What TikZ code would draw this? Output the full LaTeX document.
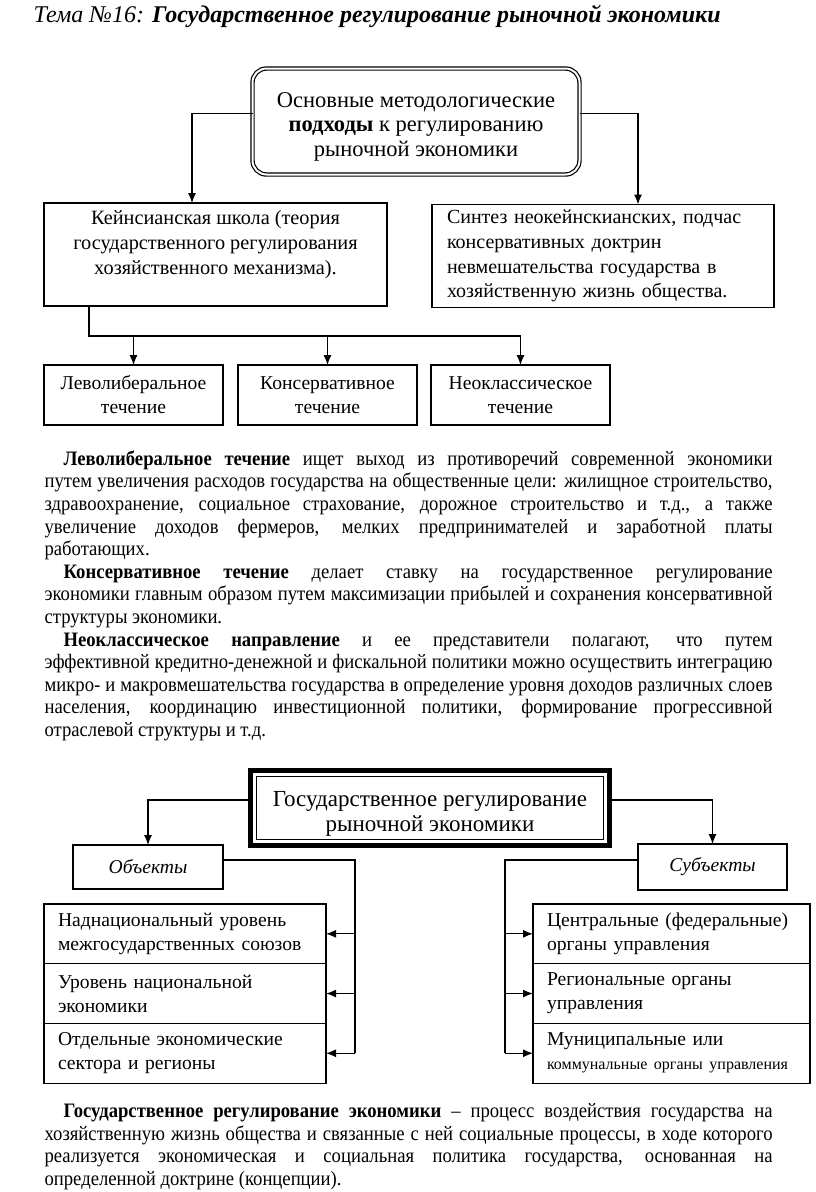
\documentclass[tikz,border=0pt]{standalone}
\usepackage{fontspec}
\setmainfont{Liberation Serif}
\newfontfamily\parafont[FakeStretch=0.91]{Liberation Serif}
\usetikzlibrary{arrows.meta}
\usetikzlibrary{positioning}

\begin{document}
\begin{tikzpicture}[
	x = 1pt, y = -1pt, % one unit = one pixel, y downwards
	> = {Latex[length=10pt, width=8pt]}, % arrow head style
	line width = 1.2pt, % line style
	font = \fontsize{19.6}{24}\selectfont
	]
	
	\tikzstyle{box}=[
	draw = black,
	line width = 1.2pt,
	inner sep = 0pt,
	outer sep = 0pt,
	align = center
	]
	\tikzstyle{row}=[
	box,
	align = left,
	inner xsep = 14pt,
	minimum height = 59.7pt
	]
	\tikzstyle{para}=[
	anchor = north west,
	inner sep = 0pt,
	text width = 728pt,
	align = justify,
	font = \parafont\fontsize{20.5}{22.6}\selectfont
	]
	
	\useasboundingbox (0,0) rectangle (816,1192);
	
	\node[anchor=base west, inner sep=0pt, font=\fontsize{24}{28}\selectfont\itshape] (title) at (33,22)
	{Тема №16: \textbf{Государственное регулирование рыночной экономики}};
	
	% first scheme
	\node[box, double, double distance=2pt, rounded corners=14pt, minimum width=327pt, minimum height=106pt,
	font=\fontsize{22.5}{24.5}\selectfont] (meth) at (416,121.5)
	{\rule{0pt}{25pt}Основные методологические\\\textbf{подходы} к регулированию\\рыночной экономики};
	\node[box, minimum width=343pt, minimum height=103pt, font=\fontsize{20.3}{25}\selectfont] (keyn) at (215.5,254.5)
	{Кейнсианская школа (теория\\государственного регулирования\\хозяйственного механизма).\par\vspace{20pt}};
	\node[box, align=left, inner xsep=15pt, text width=312pt, minimum height=103pt, font=\fontsize{20}{24.7}\selectfont] (synth) at (603,256)
	{Синтез неокейнскианских, подчас\\консервативных доктрин\\невмешательства государства в\\хозяйственную жизнь общества.};
	
	\node[box, minimum width=179pt, minimum height=60pt] (lib) at (133.5,395) {Леволиберальное\\течение};
	\node[box, minimum width=179pt, minimum height=60pt] (cons) [right=15pt of lib] {Консервативное\\течение};
	\node[box, minimum width=179pt, minimum height=60pt] (neo) [right=14pt of cons] {Неоклассическое\\течение};
	
	\draw[->] ([yshift=8pt]meth.west) -| ([xshift=-23.5pt]keyn.north);
	\draw[->] ([yshift=8pt]meth.east) -| ([xshift=35pt]synth.north);
	
	\coordinate (bus) at (89,336);
	\draw (keyn.south -| bus) -- (bus) -- (bus -| neo.north);
	\foreach \n in {lib, cons, neo}
	\draw[->] (bus -| \n.north) -- (\n.north);
	
	% text
	\node[para] (p1) at (44,450) {\hyphenpenalty=10000\relax\exhyphenpenalty=10000\relax
	\hspace*{19pt}\textbf{Леволиберальное течение} ищет выход из противоречий современной экономики\linebreak
	путем увеличения расходов государства на общественные цели: жилищное строительство,\linebreak
	здравоохранение, социальное страхование, дорожное строительство и т.д., а также\linebreak
	увеличение доходов фермеров, мелких предпринимателей и заработной платы\linebreak
	работающих.\par
	\hspace*{19pt}\textbf{Консервативное течение} делает ставку на государственное регулирование\linebreak
	экономики главным образом путем максимизации прибылей и сохранения консервативной\linebreak
	структуры экономики.\par
	\hspace*{19pt}\textbf{Неоклассическое направление} и ее представители полагают, что путем\linebreak
	эффективной кредитно-денежной и фискальной политики можно осуществить интеграцию\linebreak
	микро- и макровмешательства государства в определение уровня доходов различных слоев\linebreak
	населения, координацию инвестиционной политики, формирование прогрессивной\linebreak
	отраслевой структуры и т.д.};
	
	% second scheme
	\node[box, line width=5pt, minimum width=359pt, minimum height=75pt,
	font=\fontsize{23}{25}\selectfont] (gov) at (430,808)
	{\rule{0pt}{26pt}Государственное регулирование\\рыночной экономики};
	\draw ([shift={(6,6)}]gov.north west) rectangle ([shift={(-6,-6)}]gov.south east);
	
	\node[box, minimum width=150pt, minimum height=44pt, font=\fontsize{19.6}{24}\selectfont\itshape] (obj) at (148,867) {Объекты};
	\node[box, minimum width=149pt, minimum height=46pt, font=\fontsize{19.6}{24}\selectfont\itshape] (subj) at (712.5,867) {Субъекты};
	
	\draw[->] ([yshift=8pt]gov.west) -| (obj.north);
	\draw[->] ([yshift=8pt]gov.east) -| (subj.north);
	
	\node[row, anchor=north west, text width=254pt] (ob1) at (44,904) {Наднациональный уровень\\межгосударственных союзов};
	\node[row, text width=254pt] (ob2) [below=0pt of ob1] {Уровень национальной\\экономики};
	\node[row, text width=254pt] (ob3) [below=0pt of ob2] {Отдельные экономические\\сектора и регионы};
	
	\node[row, anchor=north west, text width=249pt] (sb1) at (533,904) {Центральные (федеральные)\\органы управления};
	\node[row, text width=249pt] (sb2) [below=0pt of sb1] {Региональные органы\\управления};
	\node[row, text width=249pt] (sb3) [below=0pt of sb2] {Муниципальные или\\{\fontsize{16}{20}\selectfont коммунальные органы управления}};
	
	\coordinate (ojoin) at (355,860);
	\draw ([yshift=7pt]obj.east) -- (ojoin) -- (ojoin |- ob3.east);
	\foreach \r in {ob1, ob2, ob3}
	\draw[->] (ojoin |- \r.east) -- (\r.east);
	
	\coordinate (sjoin) at (505,860);
	\draw ([yshift=7pt]subj.west) -- (sjoin) -- (sjoin |- sb3.west);
	\foreach \r in {sb1, sb2, sb3}
	\draw[->] (sjoin |- \r.west) -- (\r.west);
	
	% definition
	\node[para] (p4) at (44,1103) {\hyphenpenalty=10000\relax\exhyphenpenalty=10000\relax
	\hspace*{19pt}\textbf{Государственное регулирование экономики} – процесс воздействия государства на\linebreak
	хозяйственную жизнь общества и связанные с ней социальные процессы, в ходе которого\linebreak
	реализуется экономическая и социальная политика государства, основанная на\linebreak
	определенной доктрине (концепции).};
	
\end{tikzpicture}
\end{document}
